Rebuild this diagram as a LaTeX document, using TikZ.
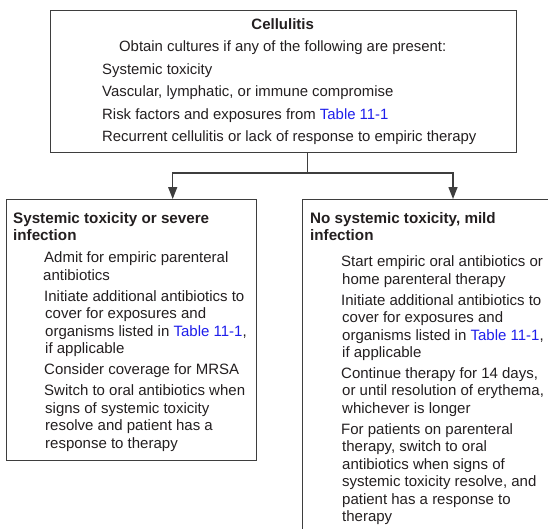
\documentclass[tikz,border=0pt]{standalone}
\usepackage{fontspec}
\setmainfont{Liberation Sans}
\usetikzlibrary{arrows.meta}
\definecolor{ink}{RGB}{35,31,32}
\definecolor{frame}{RGB}{62,62,62}
\definecolor{link}{RGB}{30,30,235}
\newcommand{\tbl}{\textcolor{link}{Table 11-1}}
\begin{document}
\begin{tikzpicture}[x=1pt,y=-1pt,
  box/.style={draw=frame, line width=1.4pt, inner sep=0pt, anchor=north west},
  txt/.style={anchor=base west, inner sep=0pt, font=\fontsize{15}{18}\selectfont, text=ink},
  ttxt/.style={txt, font=\fontsize{14.9}{18}\selectfont},
  hd/.style={txt, font=\fontsize{15.2}{18}\selectfont\bfseries},
  conn/.style={draw=frame, line width=1.4pt},
  arr/.style={conn, -{Triangle[length=12pt,width=9pt]}}]
\useasboundingbox (0,0) rectangle (548,528);
\clip (0,0) rectangle (548,528);
% boxes
\node[box, minimum width=466pt, minimum height=142pt] (top) at (49.7,10) {};
\node[box, minimum width=250pt, minimum height=261pt] (L) at (6,199) {};
\node[box, minimum width=262pt, minimum height=345pt] (R) at (302,199) {};
% connectors
\coordinate (split) at (307.7,173);
\coordinate (lx) at (172.7,199);
\coordinate (rx) at (453,199);
\draw[conn] (top.south -| split) -- (split);
\draw[arr] (split) -| (lx |- L.north);
\draw[arr] (split) -| (rx |- R.north);
% top box text
\node[hd, anchor=base, font=\fontsize{15}{18}\selectfont\bfseries] (t0) at (282.7,29.5) {Cellulitis};
\node[ttxt, anchor=base] (t1) at (282.7,51.5) {Obtain cultures if any of the following are present:};
\node[ttxt] (t2) at (102,74) {Systemic toxicity};
\node[ttxt] (t3) at (102,96.5) {Vascular, lymphatic, or immune compromise};
\node[ttxt] (t4) at (102,119) {Risk factors and exposures from \tbl};
\node[ttxt] (t5) at (102,141) {Recurrent cellulitis or lack of response to empiric therapy};
% left box text
\node[hd] (l0) at (13,223) {Systemic toxicity or severe};
\node[hd] (l1) at (13,240.5) {infection};
\node[txt] (l2) at (44,262.5) {Admit for empiric parenteral};
\node[txt] (l3) at (43,280) {antibiotics};
\node[txt] (l4) at (44,301) {Initiate additional antibiotics to};
\node[txt] (l5) at (45,318.5) {cover for exposures and};
\node[txt] (l6) at (45,336) {organisms listed in \tbl,};
\node[txt] (l7) at (45,353.5) {if applicable};
\node[txt] (l8) at (44,374.5) {Consider coverage for MRSA};
\node[txt] (l9) at (44,395.5) {Switch to oral antibiotics when};
\node[txt] (l10) at (45,413) {signs of systemic toxicity};
\node[txt] (l11) at (45,430.5) {resolve and patient has a};
\node[txt] (l12) at (45,448) {response to therapy};
% right box text
\node[hd] (r0) at (310,223) {No systemic toxicity, mild};
\node[hd] (r1) at (310,240.5) {infection};
\node[txt] (r2) at (341,266.5) {Start empiric oral antibiotics or};
\node[txt] (r3) at (342,284) {home parenteral therapy};
\node[txt] (r4) at (341,305) {Initiate additional antibiotics to};
\node[txt] (r5) at (342,322.5) {cover for exposures and};
\node[txt] (r6) at (342,340) {organisms listed in \tbl,};
\node[txt] (r7) at (342,357.5) {if applicable};
\node[txt] (r8) at (341,378) {Continue therapy for 14 days,};
\node[txt] (r9) at (342,395.5) {or until resolution of erythema,};
\node[txt] (r10) at (342,413) {whichever is longer};
\node[txt] (r11) at (341,434) {For patients on parenteral};
\node[txt] (r12) at (342,451.5) {therapy, switch to oral};
\node[txt] (r13) at (342,469) {antibiotics when signs of};
\node[txt] (r14) at (342,486.5) {systemic toxicity resolve, and};
\node[txt] (r15) at (342,504) {patient has a response to};
\node[txt] (r16) at (342,521.5) {therapy};
\end{tikzpicture}
\end{document}
